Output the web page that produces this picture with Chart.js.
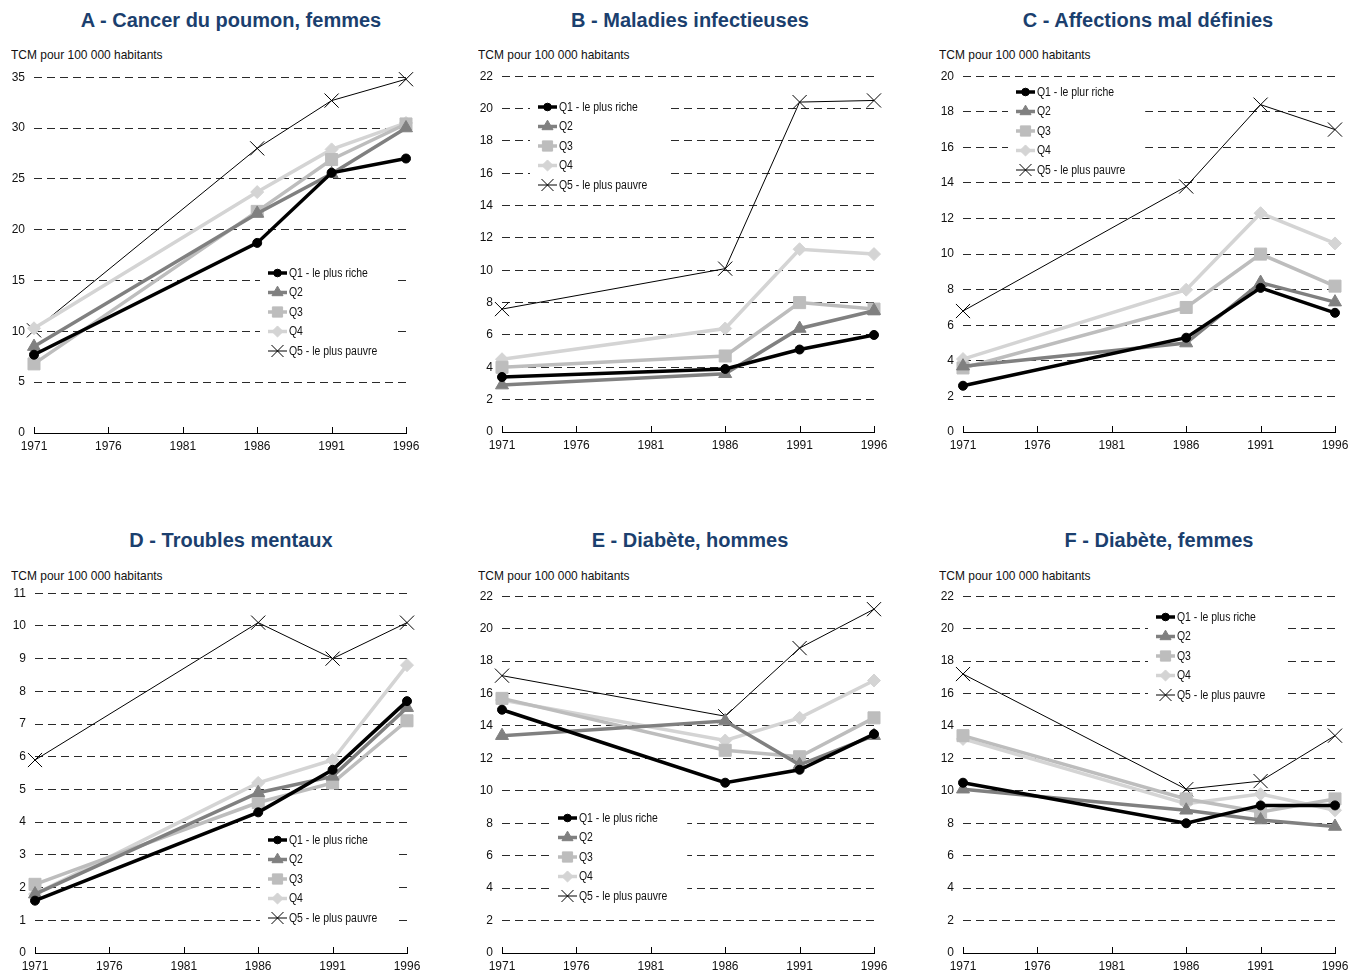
<!DOCTYPE html>
<html>
<head>
  <meta charset="utf-8">
  <title>TCM par quintile de revenu</title>
  <script src="https://cdn.jsdelivr.net/npm/chart.js"></script>
  <style>
    body { margin: 0; background: #fff; }
    #page { position: relative; width: 1356px; height: 973px; overflow: hidden; }
    .titre { position: absolute; width: 420px; margin-left: -210px; text-align: center;
      color: #1b3f6e; font: bold 20px "Liberation Sans", Arial, sans-serif; line-height: 22px; }
    .unite { position: absolute; font: 13px "Liberation Sans", Arial, sans-serif; line-height: 16px;
      color: #111; transform: scaleX(0.92); transform-origin: left center; white-space: nowrap; }
    canvas { position: absolute; }
  </style>
</head>
<body>
  <div id="page"></div>

  <script>
    // données (taux comparatif de mortalité pour 100 000 habitants)
    var annees = [1971, 1986, 1991, 1996];
    var graduationsX = [1971, 1976, 1981, 1986, 1991, 1996];
    var quintiles = ["Q1 - le plus riche", "Q2", "Q3", "Q4", "Q5 - le plus pauvre"];
    var quintilesC = ["Q1 - le plur riche", "Q2", "Q3", "Q4", "Q5 - le plus pauvre"];

    var titres = [
      "A - Cancer du poumon, femmes", "B - Maladies infectieuses", "C - Affections mal définies",
      "D - Troubles mentaux", "E - Diabète, hommes", "F - Diabète, femmes"
    ];
    var maxY = [35, 22, 20, 11, 22, 22];
    var pasY = [5, 2, 2, 1, 2, 2];

    var cancerPoumon = [
      [7.7, 18.7, 25.6, 27.0],
      [8.5, 21.6, 25.5, 30.0],
      [6.8, 21.8, 26.9, 30.4],
      [10.3, 23.7, 27.9, 30.5],
      [10.1, 28.0, 32.7, 34.8]
    ];
    var maladiesInfectieuses = [
      [3.4, 3.9, 5.1, 6.0],
      [2.9, 3.6, 6.4, 7.5],
      [4.0, 4.7, 8.0, 7.6],
      [4.5, 6.4, 11.3, 11.0],
      [7.6, 10.1, 20.4, 20.5]
    ];
    var affectionsMalDefinies = [
      [2.6, 5.3, 8.1, 6.7],
      [3.7, 5.0, 8.4, 7.3],
      [3.6, 7.0, 10.0, 8.2],
      [4.1, 8.0, 12.3, 10.6],
      [6.8, 13.8, 18.4, 17.0]
    ];
    var troublesMentaux = [
      [1.6, 4.3, 5.6, 7.7],
      [1.8, 4.9, 5.4, 7.5],
      [2.1, 4.6, 5.2, 7.1],
      [1.8, 5.2, 5.9, 8.8],
      [5.9, 10.1, 9.0, 10.1]
    ];
    var diabeteHommes = [
      [15.0, 10.5, 11.3, 13.5],
      [13.4, 14.3, 11.6, 13.4],
      [15.7, 12.5, 12.1, 14.5],
      [15.6, 13.1, 14.5, 16.8],
      [17.1, 14.6, 18.8, 21.2]
    ];
    var diabeteFemmes = [
      [10.5, 8.0, 9.1, 9.1],
      [10.1, 8.8, 8.2, 7.8],
      [13.4, 9.5, 8.7, 9.5],
      [13.2, 9.2, 9.8, 8.8],
      [17.2, 10.1, 10.6, 13.4]
    ];

    var panneaux = [cancerPoumon, maladiesInfectieuses, affectionsMalDefinies,
      troublesMentaux, diabeteHommes, diabeteFemmes];

    // styles des séries
    var couleurs = ["#000000", "#808080", "#bdbdbd", "#d4d4d4", "#000000"];
    var symboles = ["circle", "triangle", "rect", "rectRot", "crossRot"];
    var epaisseurs = [3.5, 3.5, 3.5, 3.5, 1];
    var rayons = [4.5, 7.5, 8.5, 6.5, 10];

    // mise en page : canvas (gauche, haut, hauteur), titre (centre x, y), unité, légende (x, y)
    var cadres = [
      { g: 0, h: 61, ht: 400, tx: 231, ty: 9, ux: 11, uy: 47, lx: 268, ly: 273 },
      { g: 468, h: 60, ht: 400, tx: 690, ty: 9, ux: 478, uy: 47, lx: 538, ly: 107 },
      { g: 929, h: 60, ht: 400, tx: 1148, ty: 9, ux: 939, uy: 47, lx: 1016, ly: 92 },
      { g: 1, h: 577, ht: 404, tx: 231, ty: 529, ux: 11, uy: 568, lx: 268, ly: 840 },
      { g: 468, h: 580, ht: 401, tx: 690, ty: 529, ux: 478, uy: 568, lx: 558, ly: 818 },
      { g: 929, h: 580, ht: 401, tx: 1159, ty: 529, ux: 939, uy: 568, lx: 1156, ly: 617 }
    ];

    var police = '"Liberation Sans", Arial, sans-serif';
    Chart.defaults.font.family = police;
    Chart.defaults.color = "#111";

    function dessinerSymbole(ctx, style, r, x, y) {
      if (Chart.helpers && Chart.helpers.drawPoint) {
        Chart.helpers.drawPoint(ctx, { pointStyle: style, radius: r, rotation: 0, borderWidth: ctx.lineWidth }, x, y);
      }
    }

    // petites graduations vers le haut sur l'axe des années
    var graduationsHaut = {
      id: "graduationsHaut",
      afterDraw: function (chart) {
        var ctx = chart.ctx, sx = chart.scales.x, bas = chart.chartArea.bottom;
        ctx.save();
        ctx.strokeStyle = "#000";
        ctx.lineWidth = 1;
        sx.ticks.forEach(function (t) {
          var px = Math.round(sx.getPixelForValue(t.value)) + 0.5;
          ctx.beginPath();
          ctx.moveTo(px, bas);
          ctx.lineTo(px, bas - 6);
          ctx.stroke();
        });
        ctx.restore();
      }
    };

    // légende dans la zone du graphique, sur fond blanc
    var legendeInterne = {
      id: "legendeInterne",
      afterDraw: function (chart, args, opts) {
        var ctx = chart.ctx;
        var ds = chart.data.datasets;
        var pas = 19.5, serre = 0.87;
        ctx.save();
        ctx.font = "12px " + police;
        var largeur = 0;
        ds.forEach(function (d) { largeur = Math.max(largeur, ctx.measureText(d.label).width * serre); });
        ctx.fillStyle = "#fff";
        ctx.fillRect(opts.x - 8, opts.y - 12, 21 + largeur + 28, pas * (ds.length - 1) + 23);
        ds.forEach(function (d, i) {
          var y = opts.y + i * pas;
          ctx.strokeStyle = d.borderColor;
          ctx.lineWidth = d.borderWidth;
          ctx.setLineDash([]);
          ctx.beginPath();
          ctx.moveTo(opts.x, y);
          ctx.lineTo(opts.x + 19, y);
          ctx.stroke();
          ctx.fillStyle = d.pointBackgroundColor;
          ctx.strokeStyle = d.pointBorderColor;
          ctx.lineWidth = d.pointBorderWidth;
          dessinerSymbole(ctx, d.pointStyle, d.pointRadius * 0.85, opts.x + 9.5, y);
          ctx.save();
          ctx.translate(opts.x + 21, y + 0.5);
          ctx.scale(serre, 1);
          ctx.fillStyle = "#111";
          ctx.textBaseline = "middle";
          ctx.fillText(d.label, 0, 0);
          ctx.restore();
        });
        ctx.restore();
      }
    };

    var page = document.getElementById("page");

    panneaux.forEach(function (series, k) {
      var c = cadres[k];

      var titre = document.createElement("div");
      titre.className = "titre";
      titre.style.left = c.tx + "px";
      titre.style.top = c.ty + "px";
      titre.textContent = titres[k];
      page.appendChild(titre);

      var unite = document.createElement("div");
      unite.className = "unite";
      unite.style.left = c.ux + "px";
      unite.style.top = c.uy + "px";
      unite.textContent = "TCM pour 100 000 habitants";
      page.appendChild(unite);

      var canvas = document.createElement("canvas");
      canvas.width = 424;
      canvas.height = c.ht;
      canvas.style.left = c.g + "px";
      canvas.style.top = c.h + "px";
      page.appendChild(canvas);

      var noms = k === 2 ? quintilesC : quintiles;
      var datasets = series.map(function (valeurs, i) {
        return {
          label: noms[i],
          data: annees.map(function (a, j) { return { x: a, y: valeurs[j] }; }),
          borderColor: couleurs[i],
          backgroundColor: couleurs[i],
          borderWidth: epaisseurs[i],
          pointStyle: symboles[i],
          pointRadius: rayons[i],
          pointBackgroundColor: couleurs[i],
          pointBorderColor: couleurs[i],
          pointBorderWidth: 1,
          tension: 0,
          clip: false
        };
      });

      new Chart(canvas.getContext("2d"), {
        type: "line",
        data: { datasets: datasets },
        options: {
          responsive: false,
          animation: false,
          events: [],
          layout: { padding: { top: 2, right: 18, bottom: 4, left: 0 } },
          scales: {
            x: {
              type: "linear",
              min: 1971,
              max: 1996,
              afterBuildTicks: function (s) { s.ticks = graduationsX.map(function (v) { return { value: v }; }); },
              afterFit: function (s) { s.height = 24; },
              grid: { display: false },
              border: { display: true, color: "#000", width: 1 },
              ticks: { padding: -2, font: { size: 12 }, color: "#111", callback: function (v) { return String(v); } }
            },
            y: {
              min: 0,
              max: maxY[k],
              afterFit: function (s) { s.width = 34; },
              grid: { color: "#2a2a2a", lineWidth: 1, drawTicks: false },
              border: { display: false, dash: [8, 5] },
              ticks: { stepSize: pasY[k], padding: 9, font: { size: 12 }, color: "#111" }
            }
          },
          plugins: {
            legend: { display: false },
            tooltip: { enabled: false },
            legendeInterne: { x: c.lx - c.g, y: c.ly - c.h }
          }
        },
        plugins: [graduationsHaut, legendeInterne]
      });
    });
  </script>
</body>
</html>
